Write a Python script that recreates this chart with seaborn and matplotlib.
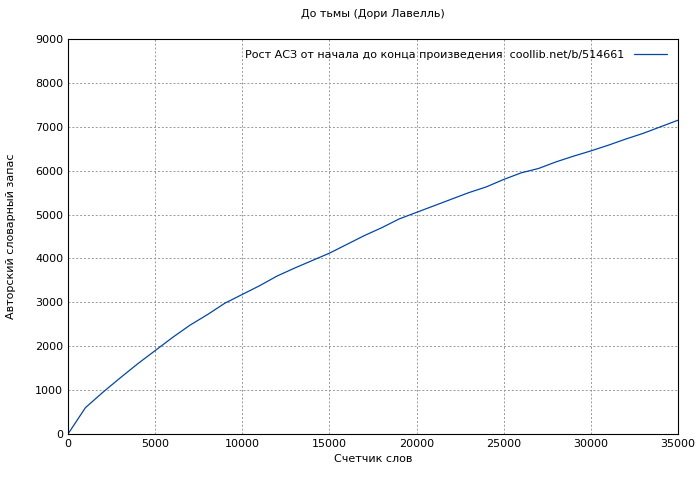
import matplotlib
matplotlib.use("Agg")
import matplotlib.pyplot as plt
import seaborn as sns

words = [0, 1000, 2000, 3000, 4000, 5000, 6000, 7000, 8000, 9000, 10000, 11000,
         12000, 13000, 14000, 15000, 16000, 17000, 18000, 19000, 20000, 21000,
         22000, 23000, 24000, 25000, 26000, 27000, 28000, 29000, 30000, 31000,
         32000, 33000, 34000, 35000]
vocab = [0, 600, 950, 1280, 1600, 1900, 2200, 2480, 2720, 2980, 3180, 3380,
         3600, 3780, 3950, 4120, 4320, 4520, 4700, 4900, 5050, 5200,
         5350, 5500, 5630, 5800, 5950, 6050, 6200, 6330, 6450, 6580,
         6720, 6850, 7000, 7150]

sns.set_style("white")
plt.rcParams['font.family'] = ['DejaVu Sans']
plt.rcParams['text.color'] = 'black'
plt.rcParams['axes.labelcolor'] = 'black'

fig = plt.figure(figsize=(7, 4.8), dpi=100)
ax = fig.add_axes([68/700, 46/480, 610/700, 395/480])
sns.lineplot(x=words, y=vocab, ax=ax, color="#0047ab", linewidth=0.9,
             label="Рост АСЗ от начала до конца произведения  coollib.net/b/514661")
ax.set_xlim(0, 35000)
ax.set_ylim(0, 9000)
ax.set_xticks(range(0, 35001, 5000))
ax.set_yticks(range(0, 9001, 1000))
ax.grid(True, color="#999999", linestyle=(0, (2, 2)), linewidth=0.7)
for s in ax.spines.values():
    s.set_color("black")
    s.set_linewidth(0.8)
ax.tick_params(labelsize=8, direction="in", length=4, colors="black")
ax.set_xlabel("Счетчик слов", fontsize=8)
ax.set_ylabel("Авторский словарный запас", fontsize=8, labelpad=14)
ax.set_title("До тьмы (Дори Лавелль)", fontsize=8, pad=16)
leg = ax.legend(loc="upper right", fontsize=8, frameon=False, markerfirst=False,
                handlelength=3, borderaxespad=0.6)
plt.savefig("out.png", dpi=100)
